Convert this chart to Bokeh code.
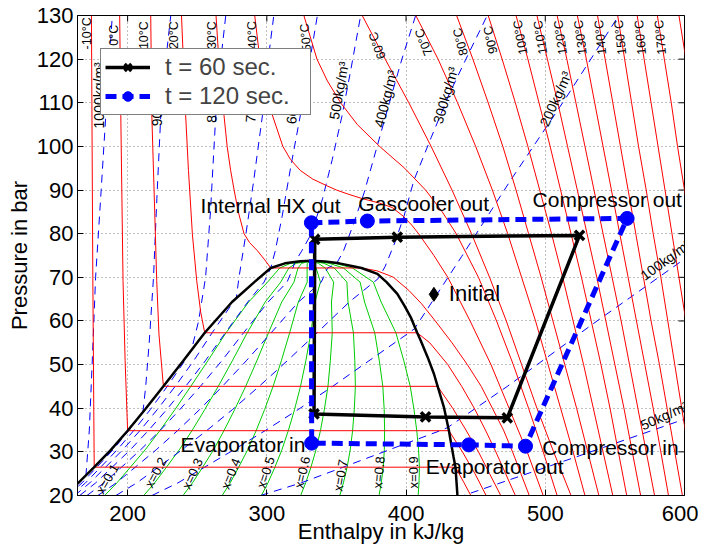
from bokeh.plotting import figure
from bokeh.models import ColumnDataSource, FixedTicker, Legend, LegendItem
from bokeh.core.properties import value
from bokeh.embed import file_html
from bokeh.resources import INLINE

FONT = "Liberation Sans"

# ---------------- axis ticks ----------------
x_ticks = [200, 300, 400, 500, 600]
y_ticks = [20, 30, 40, 50, 60, 70, 80, 90, 100, 110, 120, 130]
h_min, h_max = 164, 600
p_min, p_max = 20, 130

# ---------------- saturation dome (h kJ/kg, P bar) ----------------
dome_h = [155.3, 164, 176, 188, 200, 212.5, 225.7, 240, 255.4, 275, 291, 302.8, 313, 324, 332,
          342, 352, 361, 368, 379.4, 386, 393.7, 398.8, 403.3, 408, 410.5, 415.5, 420, 422.7,
          427.2, 430.8, 432, 434, 435.5, 436, 436.9]
dome_P = [20, 22.7, 26.49, 30.47, 34.85, 39.69, 45.02, 50.86, 57.29, 64.34, 68.9, 72.14, 73.2, 73.7, 73.8,
          73.6, 73.2, 72.6, 72.14, 70.8, 68.9, 66.2, 63.5, 60.9, 57.29, 55.5, 51.7, 47.9, 45.02,
          40.2, 34.85, 32.6, 29, 26.49, 24.2, 20]

# ---------------- isotherms (red) ----------------
tm10_h = [174, 175, 176, 435.5, 441.5, 446.5]
tm10_P = [130, 70, 26.49, 26.49, 23, 20]
t0_h = [194.3, 195.1, 196.7, 198.2, 200, 430.8, 440.5, 449.5, 457.5]
t0_P = [130, 107, 69.3, 50.9, 34.85, 34.85, 30, 25, 20]
t10_h = [216.6, 217.4, 219, 220.9, 222.5, 225.7, 422.7, 433.5, 443, 452, 460, 468]
t10_P = [130, 107, 90, 69.3, 57, 45.02, 45.02, 40, 35, 30, 25, 20]
t20_h = [238.7, 241.7, 243.7, 246.5, 249.6, 252.5, 255.4, 408, 417, 430, 440, 449, 457, 464.5, 471.5, 478.5]
t20_P = [130, 107, 94.5, 80, 69.3, 62, 57.29, 57.29, 55, 50, 45, 40, 35, 30, 25, 20]
t30_h = [263.5, 265.5, 268.3, 271.5, 274, 276.5, 279.5, 283.6, 287.5, 293.2, 298.5, 302.8, 368,
         379, 388, 391, 402, 411, 421, 433, 444, 454, 462, 470, 476.5, 482.5, 488.5]
t30_P = [130, 120, 110, 100, 94.5, 90, 85, 80, 78, 76.1, 74, 72.14, 72.14,
         71.5, 70.4, 70, 67, 64, 60, 55, 50, 45, 40, 35, 30, 25, 20]
t40_h = [291.3, 295, 301, 311.5, 317, 324, 333, 343, 350, 359, 369, 381, 390, 398, 404, 409, 420, 430,
         446, 461, 474, 487, 498.5]
t40_P = [130, 120, 110, 100, 97, 94.5, 92.5, 91, 90, 89, 88, 87, 86, 84, 82, 80, 75, 70,
         60, 50, 40, 30, 20]
t50_h = [326.6, 336, 343.5, 353, 365, 381, 399, 414, 426, 436, 452, 465, 477, 488, 498.5, 508.5]
t50_P = [130, 120, 115, 110, 105, 100, 95, 90, 85, 80, 70, 60, 50, 40, 30, 20]

P_grid = [130, 120, 110, 100, 90, 80, 70, 60, 50, 40, 30, 20]
t60_h = [368.5, 385, 402, 418, 433, 447, 460, 472, 483, 494, 506, 518.5]
t70_h = [407, 423, 437, 450, 462, 473, 483, 493, 502, 511, 520, 528.5]
t80_h = [436.3, 448, 459, 469.5, 479, 488, 497, 505.5, 514, 522.5, 530.5, 538.5]
t90_h = [459, 469, 478.5, 487.5, 496, 504.5, 512.5, 520, 527.5, 534.5, 541.5, 548.5]
t100_h = [479, 487.5, 495.5, 503.5, 511, 518.5, 526, 533, 540, 546.5, 552.5, 558.5]
t110_h = [494, 501.5, 509, 516, 523, 530, 537, 543.5, 550, 556.5, 562.5, 568.5]
t120_h = [508.5, 515.5, 522, 528.5, 535, 541.5, 548, 554.5, 560.5, 566.5, 572.5, 578.5]
t130_h = [523, 529.5, 535.5, 541.5, 547.5, 553.5, 559.5, 565.5, 571.5, 577.5, 583, 588.5]
t140_h = [537.5, 543, 548.5, 554, 559.5, 565, 570.5, 576, 582, 587.5, 593, 598.5]
t150_h = [552, 557, 562, 567, 572.5, 577.5, 583, 588, 593, 598, 603, 608]
t160_h = [566, 571, 576, 581, 586, 591, 596, 601, 606, 611, 616, 621]
t170_h = [580.5, 585.5, 590.5, 595, 600, 605, 610, 615, 620, 625, 630, 635]
t180_h = [596, 601, 606, 611, 616, 621, 626, 631, 636, 641, 646, 651]

iso_T_labels = ["-10°C", "0°C", "10°C", "20°C", "30°C", "40°C", "50°C", "60°C", "70°C", "80°C",
                "90°C", "100°C", "110°C", "120°C", "130°C", "140°C", "150°C", "160°C", "170°C"]
iso_T_lab_h = [170.7, 190.4, 212, 233.5, 260.8, 289.5, 327.9, 379.4, 412.8, 439.2,
               460.7, 482.2, 496.6, 511, 525.4, 539.7, 554, 568.4, 582.8]
iso_T_lab_P = [125.9, 125.5, 125.5, 125.5, 125.5, 125.5, 125, 123.1, 123.9, 124,
               124.4, 125, 125, 125, 125, 125, 125, 125, 125]
iso_T_lab_ang = [90, 90, 90, 90, 90, 92, 96, 110, 112, 105, 102, 100, 99, 98, 97, 96, 96, 95, 95]

# ---------------- isochores (blue dashed) ----------------
r1000_h = [155.6, 165.3, 170, 172.5, 174.5, 177, 181, 184.3, 189]
r1000_P = [20, 22.9, 24.3, 35, 50, 70, 90, 107, 130]
r900_h = [157, 167.3, 177.9, 189.5, 200.8, 211, 213, 215.5, 218.6, 221, 223.8, 227.5, 231]
r900_P = [20, 22.9, 26.49, 30.47, 34.85, 39.1, 45, 55, 70, 88, 107, 120, 130]
r800_h = [159.1, 169.8, 180.6, 192.5, 204.3, 216.3, 228.5, 241.1, 246, 251, 256, 259.5, 263.3, 267, 270.5]
r800_P = [20, 22.9, 26.49, 30.47, 34.85, 39.69, 45.02, 50.86, 53.5, 60, 70, 85, 107, 120, 130]
r700_h = [161.9, 172.9, 184.2, 196.5, 208.8, 221.3, 234.2, 247.4, 260.7, 275.9, 278, 280, 285, 290.5, 296.8, 301, 305]
r700_P = [20, 22.9, 26.49, 30.47, 34.85, 39.69, 45.02, 50.86, 57.29, 64.34, 65.1, 70, 80, 92, 107, 120, 130]
r600_h = [165.6, 177.1, 188.9, 201.9, 214.8, 228.1, 241.7, 255.8, 270.2, 286.3, 298, 302.8, 306, 311, 317, 324, 330, 336.3]
r600_P = [20, 22.9, 26.49, 30.47, 34.85, 39.69, 45.02, 50.86, 57.29, 64.34, 68.9, 72.1, 76, 84, 95, 107, 118, 130]
r500_h = [170.8, 183, 195.6, 209.3, 223.2, 237.5, 252.3, 267.6, 283.3, 300.9, 314.5, 318.8, 320, 325, 332, 340, 347, 354, 360, 367.4]
r500_P = [20, 22.9, 26.49, 30.47, 34.85, 39.69, 45.02, 50.86, 57.29, 64.34, 68.9, 72.14, 73.4, 76, 80, 88, 97, 107, 117, 130]
r400_h = [178.6, 191.9, 205.5, 220.5, 235.8, 251.7, 268.1, 285.2, 303.1, 322.7, 339.1, 343.6, 350, 355, 362, 370, 377, 388, 397, 406.9]
r400_P = [20, 22.9, 26.49, 30.47, 34.85, 39.69, 45.02, 50.86, 57.29, 64.34, 68.9, 72.14, 73.1, 76, 82, 89.5, 97.5, 110, 120, 130]
r300_h = [191.6, 206.6, 222.1, 239, 256.7, 275.3, 294.5, 314.6, 336.1, 359.2, 380, 385, 392, 398.5, 405.6, 418, 431, 444.5, 458.3]
r300_P = [20, 22.9, 26.49, 30.47, 34.85, 39.69, 45.02, 50.86, 57.29, 64.34, 69.7, 72.5, 78, 84, 92.2, 102, 112, 121, 130]
r200_h = [217.5, 236.2, 255.3, 276.3, 298.7, 322.5, 347.3, 373.3, 402.1, 406, 440, 475, 515, 552.8]
r200_P = [20, 22.9, 26.49, 30.47, 34.85, 39.69, 45.02, 50.86, 57.29, 58.2, 74.8, 92.2, 111.2, 130]
r100_h = [295.5, 324.7, 354.8, 387.8, 424.5, 430, 472.7, 535, 600]
r100_P = [20, 22.9, 26.49, 30.47, 34.85, 35.6, 45, 59.5, 74.2]
r50_h = [437, 448.7, 520, 600]
r50_P = [19.5, 20.8, 28.6, 37.5]

rho_labels = ["1000kg/m³", "900kg/m³", "800kg/m³", "700kg/m³", "600kg/m³", "500kg/m³",
              "400kg/m³", "300kg/m³", "200kg/m³", "100kg/m³", "50kg/m³"]
rho_lab_h = [179.5, 220.9, 260.9, 289.6, 319.5, 351.8, 385.3, 428.4, 507.4, 586.5, 585.5]
rho_lab_P = [111.7, 111.3, 112.1, 112.1, 111.8, 112.8, 110.9, 111.7, 110.9, 74.0, 38.3]
rho_lab_ang = [90, 90, 88, 86, 84, 80, 76, 74, 66, 36, 24]

# ---------------- vapour quality lines (green) ----------------
P_quality = [20, 22.9, 26.49, 30.47, 34.85, 39.69, 45.02, 50.86, 57.29, 64.34, 68.9, 72.14, 73.2, 73.8]
x01_h = [183.5, 192.3, 202.0, 212.6, 223.1, 234.0, 245.4, 257.6, 270.7, 286.9, 300.5, 309.3, 317, 332]
x02_h = [211.6, 219.4, 227.9, 237.1, 246.2, 255.4, 265.1, 275.2, 285.9, 298.8, 310.0, 315.8, 321, 332]
x03_h = [239.8, 246.6, 253.9, 261.7, 269.2, 276.9, 284.8, 292.8, 301.2, 310.7, 319.5, 322.4, 325, 332]
x04_h = [267.9, 273.7, 279.8, 286.2, 292.3, 298.4, 304.5, 310.4, 316.4, 322.6, 329.0, 328.9, 329, 332]
x05_h = [296.1, 300.8, 305.8, 310.8, 315.4, 319.9, 324.2, 328.0, 331.7, 334.5, 338.5, 335.4, 333, 332]
x06_h = [324.3, 327.9, 331.7, 335.3, 338.5, 341.3, 343.9, 345.6, 347.0, 346.4, 348.0, 341.9, 337, 332]
x07_h = [352.4, 355.0, 357.7, 359.9, 361.6, 362.8, 363.6, 363.2, 362.2, 358.3, 357.5, 348.4, 341, 332]
x08_h = [380.6, 382.2, 383.6, 384.4, 384.6, 384.3, 383.3, 380.8, 377.5, 370.2, 367.0, 355.0, 345, 332]
x09_h = [408.7, 409.3, 409.6, 409.0, 407.7, 405.7, 403.0, 398.4, 392.7, 382.1, 376.5, 361.5, 349, 332]

x_labels = ["x=0.1", "x=0.2", "x=0.3", "x=0.4", "x=0.5", "x=0.6", "x=0.7", "x=0.8", "x=0.9"]
x_lab_h = [185.5, 220.2, 246.6, 274.1, 299.2, 325.5, 353, 380.5, 405.6]
x_lab_P = [23.8, 25.3, 25, 25, 25.3, 25.3, 24.6, 25.3, 25.3]
x_lab_ang = [60, 62, 65, 68, 72, 77, 80, 85, 90]

# ---------------- cycles ----------------
c60_h = [472.7, 524.6, 393.7, 334.4, 333.9, 414, 472.7]
c60_P = [37.8, 79.6, 79.2, 78.7, 38.7, 38.0, 37.8]
c120_h = [332, 372.2, 558.8, 485.8, 445.1, 332.2, 332]
c120_P = [82.5, 82.9, 83.5, 31.3, 31.6, 32, 82.5]
initial_h = [420]
initial_P = [66.1]

ann_text = ["Internal HX out", "Gascooler out", "Compressor out", "Evaporator in",
            "Evaporator out", "Compressor in"]
ann_h = [302.7, 412.7, 544.5, 282.8, 463.7, 546.8]
ann_P = [86.5, 87, 87.8, 31.8, 26.7, 31.1]

# ================= figure =================
p = figure(width=698, height=552, x_range=(h_min, h_max), y_range=(p_min, p_max),
           output_backend="svg", toolbar_location=None,
           min_border_left=77, min_border_right=14, min_border_top=15, min_border_bottom=57,
           x_axis_label="Enthalpy in kJ/kg", y_axis_label="Pressure in bar")
p.outline_line_color = "black"
p.outline_line_width = 1

for ax, ticks in ((p.xaxis[0], x_ticks), (p.yaxis[0], y_ticks)):
    ax.ticker = FixedTicker(ticks=ticks)
    ax.major_tick_in = 6
    ax.major_tick_out = 0
    ax.minor_tick_in = 0
    ax.minor_tick_out = 0
    ax.axis_line_color = "black"
    ax.major_tick_line_color = "black"
    ax.major_label_text_font = FONT
    ax.major_label_text_font_size = "22px"
    ax.major_label_text_color = "black"
    ax.axis_label_text_font = FONT
    ax.axis_label_text_font_size = "22px"
    ax.axis_label_text_font_style = "normal"
    ax.axis_label_text_color = "black"
p.xaxis.major_label_standoff = 10
p.xaxis.axis_label_standoff = -5
p.yaxis.major_label_standoff = 4
p.yaxis.axis_label_standoff = 2

p.xgrid.ticker = FixedTicker(ticks=x_ticks)
p.ygrid.ticker = FixedTicker(ticks=y_ticks)
p.grid.grid_line_color = "#808080"
p.grid.grid_line_dash = "1 3"
p.grid.grid_line_width = 1

# inner tick marks on the top and right frame edges (half of each dash is clipped by the frame)
p.scatter(x=x_ticks, y=[p_max] * len(x_ticks), marker="dash", size=12, angle=90, angle_units="deg",
          line_color="black", line_width=1)
p.scatter(x=[h_max] * len(y_ticks), y=y_ticks, marker="dash", size=12,
          line_color="black", line_width=1)

# quality lines
q_xs = [x01_h, x02_h, x03_h, x04_h, x05_h, x06_h, x07_h, x08_h, x09_h]
p.multi_line(xs=q_xs, ys=[P_quality] * len(q_xs), line_color="#00cc00", line_width=1)

# isochores
rho_xs = [r1000_h, r900_h, r800_h, r700_h, r600_h, r500_h, r400_h, r300_h, r200_h, r100_h, r50_h]
rho_ys = [r1000_P, r900_P, r800_P, r700_P, r600_P, r500_P, r400_P, r300_P, r200_P, r100_P, r50_P]
p.multi_line(xs=rho_xs, ys=rho_ys, line_color="#0000ff", line_width=1, line_dash="8 6")

# isotherms
iso_xs = [tm10_h, t0_h, t10_h, t20_h, t30_h, t40_h, t50_h, t60_h, t70_h, t80_h, t90_h, t100_h,
          t110_h, t120_h, t130_h, t140_h, t150_h, t160_h, t170_h, t180_h]
iso_ys = [tm10_P, t0_P, t10_P, t20_P, t30_P, t40_P, t50_P] + [P_grid] * 13
p.multi_line(xs=iso_xs, ys=iso_ys, line_color="#ff0000", line_width=1)

# saturation dome
p.line(dome_h, dome_P, line_color="black", line_width=2.5)

# small labels
def small(size):
    return dict(text_font=value(FONT), text_font_size=size, text_color="black",
                text_align="center", text_baseline="middle", angle_units="deg")

p.text(x="x", y="y", text="t", angle="a",
       source=ColumnDataSource(dict(x=iso_T_lab_h, y=iso_T_lab_P, t=iso_T_labels, a=iso_T_lab_ang)),
       **small("12.5px"))
p.text(x="x", y="y", text="t", angle="a",
       source=ColumnDataSource(dict(x=rho_lab_h, y=rho_lab_P, t=rho_labels, a=rho_lab_ang)),
       **small("14px"))
p.text(x="x", y="y", text="t", angle="a",
       source=ColumnDataSource(dict(x=x_lab_h, y=x_lab_P, t=x_labels, a=x_lab_ang)),
       **small("13px"))

# cycles
r60_line = p.line(c60_h, c60_P, line_color="black", line_width=3.5)
r60_pts = p.scatter(c60_h[:-1], c60_P[:-1], marker="x", size=13, line_color="black", line_width=3.5)
r120_line = p.line(c120_h, c120_P, line_color="#0000ff", line_width=5, line_dash="11 6")
r120_pts = p.scatter(c120_h[:-1], c120_P[:-1], marker="circle", size=14, fill_color="#0000ff",
                     line_color="#0000ff")
p.scatter(initial_h, initial_P, marker="diamond", size=14, fill_color="black", line_color="black")

p.text(x=ann_h, y=ann_P, text=ann_text, text_font=value(FONT), text_font_size="21px",
       text_color="black", text_align="center", text_baseline="middle")
p.text(x=[430.7], y=[66.3], text=["Initial"], text_font=value(FONT), text_font_size="22px",
       text_color="black", text_align="left", text_baseline="middle")

legend = Legend(items=[LegendItem(label="t = 60 sec.", renderers=[r60_line, r60_pts]),
                       LegendItem(label="t = 120 sec.", renderers=[r120_line, r120_pts])],
                location=(23, 380), label_text_font=FONT, label_text_font_size="24px",
                border_line_color="black", border_line_width=1, background_fill_alpha=1,
                padding=4, spacing=1, glyph_width=45, glyph_height=24, label_height=24,
                label_width=141, label_standoff=15, margin=0)
p.add_layout(legend)

open("out.html", "w").write(file_html(p, INLINE))
